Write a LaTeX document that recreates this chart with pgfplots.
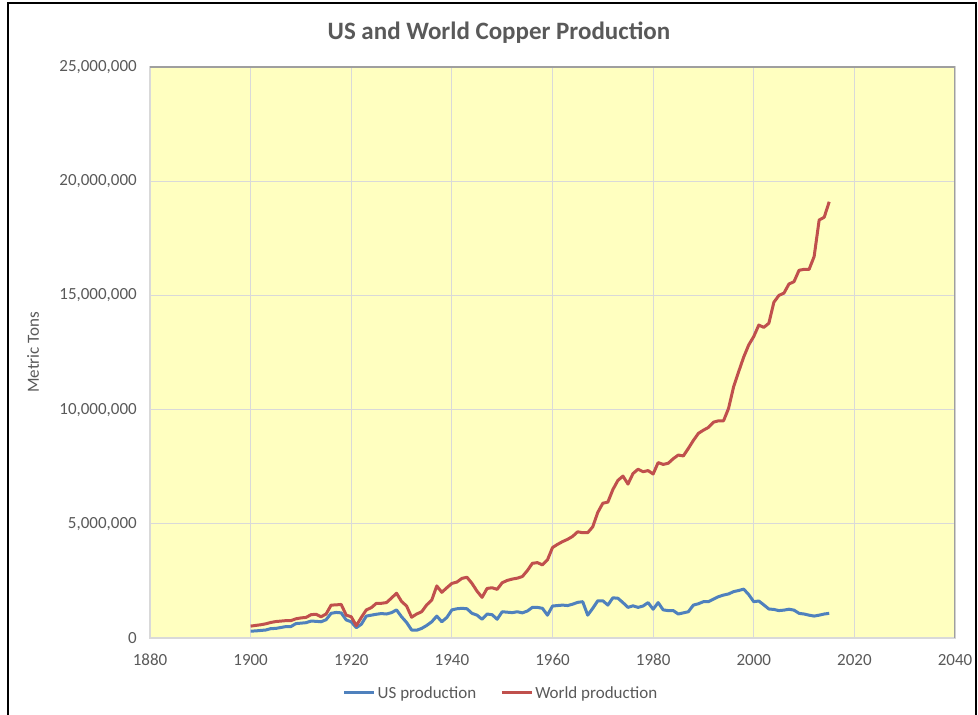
\documentclass[border=0pt]{standalone}
\usepackage{fontspec}
\setmainfont{Carlito}
\usepackage{pgfplots}
\usepackage{pgfplotstable}
\pgfplotsset{compat=1.18}
\definecolor{usblue}{RGB}{79,129,189}
\definecolor{wred}{RGB}{192,80,77}
\definecolor{txtgray}{RGB}{89,89,89}
\definecolor{gridgray}{RGB}{217,217,217}
\definecolor{bgyellow}{RGB}{255,255,192}
\pgfplotstableread{
year us world
1900 0.30 0.52
1901 0.31 0.55
1902 0.33 0.58
1903 0.35 0.62
1904 0.41 0.68
1905 0.42 0.72
1906 0.46 0.74
1907 0.50 0.76
1908 0.50 0.76
1909 0.63 0.84
1910 0.65 0.88
1911 0.67 0.90
1912 0.74 1.02
1913 0.73 1.04
1914 0.71 0.93
1915 0.80 1.05
1916 1.08 1.44
1917 1.12 1.45
1918 1.10 1.47
1919 0.79 1.00
1920 0.71 0.93
1921 0.45 0.54
1922 0.60 0.90
1923 0.96 1.23
1924 1.00 1.33
1925 1.04 1.52
1926 1.07 1.52
1927 1.05 1.55
1928 1.11 1.75
1929 1.23 1.96
1930 0.93 1.60
1931 0.68 1.40
1932 0.35 0.91
1933 0.34 1.05
1934 0.42 1.15
1935 0.55 1.45
1936 0.71 1.66
1937 0.96 2.28
1938 0.71 2.00
1939 0.90 2.20
1940 1.23 2.39
1941 1.28 2.45
1942 1.30 2.61
1943 1.28 2.66
1944 1.08 2.39
1945 1.00 2.05
1946 0.82 1.78
1947 1.05 2.17
1948 1.02 2.20
1949 0.82 2.13
1950 1.15 2.42
1951 1.13 2.52
1952 1.11 2.58
1953 1.15 2.62
1954 1.10 2.69
1955 1.18 2.95
1956 1.34 3.27
1957 1.34 3.30
1958 1.30 3.20
1959 1.00 3.42
1960 1.40 3.96
1961 1.42 4.10
1962 1.44 4.22
1963 1.42 4.32
1964 1.48 4.45
1965 1.56 4.65
1966 1.59 4.61
1967 1.00 4.61
1968 1.30 4.87
1969 1.63 5.50
1970 1.63 5.90
1971 1.44 5.95
1972 1.76 6.50
1973 1.74 6.90
1974 1.55 7.09
1975 1.34 6.74
1976 1.41 7.20
1977 1.34 7.39
1978 1.40 7.28
1979 1.55 7.33
1980 1.26 7.18
1981 1.55 7.68
1982 1.23 7.60
1983 1.20 7.65
1984 1.20 7.85
1985 1.05 8.01
1986 1.10 7.97
1987 1.15 8.30
1988 1.44 8.65
1989 1.50 8.96
1990 1.59 9.10
1991 1.59 9.22
1992 1.70 9.45
1993 1.81 9.51
1994 1.88 9.51
1995 1.93 10.06
1996 2.03 11.00
1997 2.08 11.66
1998 2.14 12.30
1999 1.90 12.83
2000 1.59 13.20
2001 1.62 13.70
2002 1.45 13.60
2003 1.27 13.78
2004 1.25 14.70
2005 1.20 15.00
2006 1.22 15.10
2007 1.26 15.50
2008 1.22 15.60
2009 1.08 16.10
2010 1.05 16.14
2011 1.00 16.14
2012 0.96 16.70
2013 1.00 18.30
2014 1.05 18.42
2015 1.08 19.10
}\copperdata
\begin{document}
\begin{tikzpicture}
\useasboundingbox (-150pt,-77pt) rectangle (828pt,638pt);
\begin{axis}[
  at={(0pt,0pt)}, anchor=south west,
  scale only axis, width=805pt, height=571pt,
  xmin=1880, xmax=2040, ymin=0, ymax=25000000,
  xtick={1880,1900,...,2040},
  ytick={0,5000000,...,25000000},
  scaled y ticks=false,
  /pgf/number format/.cd, fixed, 1000 sep={,}, assume math mode=true,
  /pgfplots/.cd,
  xticklabel={\pgfmathprintnumber[fixed,1000 sep={}]{\tick}},
  major tick length=0pt,
  grid=major,
  major grid style={draw=gridgray, line width=1.2pt},
  axis background/.style={fill=bgyellow},
  axis line style={draw=gridgray, line width=1.2pt},
  ticklabel style={font=\fontsize{17}{20}\selectfont, text=txtgray},
  yticklabel style={inner sep=0pt, xshift=-13pt},
  xticklabel style={inner sep=0pt, yshift=-16pt},
  title={US and World Copper Production},
  every axis title shift=0pt,
  title style={font=\fontsize{25}{29}\selectfont\bfseries, text=txtgray, at={(axis description cs:0.4335,1.0595)}, anchor=center, yshift=0pt},
  ylabel={Metric Tons},
  ylabel style={font=\fontsize{17}{20}\selectfont, text=txtgray, at={(axis description cs:-0.1453,0.5)}, anchor=center},
  legend style={at={(axis description cs:0.436,-0.0963)}, anchor=center, draw=none, fill=none,
    font=\fontsize{17}{20}\selectfont, text=txtgray, legend columns=2,
    /tikz/every even column/.append style={column sep=22pt}},
  legend image code/.code={\draw[#1, line width=3pt] (0pt,0pt) -- (30pt,0pt);},
]
\addplot[color=usblue, line width=3pt, line join=round] table[x=year, y expr=\thisrow{us}*1000000] {\copperdata};
\addlegendentry{US production}
\addplot[color=wred, line width=3pt, line join=round] table[x=year, y expr=\thisrow{world}*1000000] {\copperdata};
\addlegendentry{World production}
\draw[gray!75, line width=1.2pt] (axis description cs:0,1) -- (axis description cs:1,1) -- (axis description cs:1,0);
\end{axis}
\draw[black, line width=1.5pt] (-142pt,-77pt) -- (-142pt,635pt) -- (826pt,635pt) -- (826pt,-77pt);
\end{tikzpicture}
\end{document}
